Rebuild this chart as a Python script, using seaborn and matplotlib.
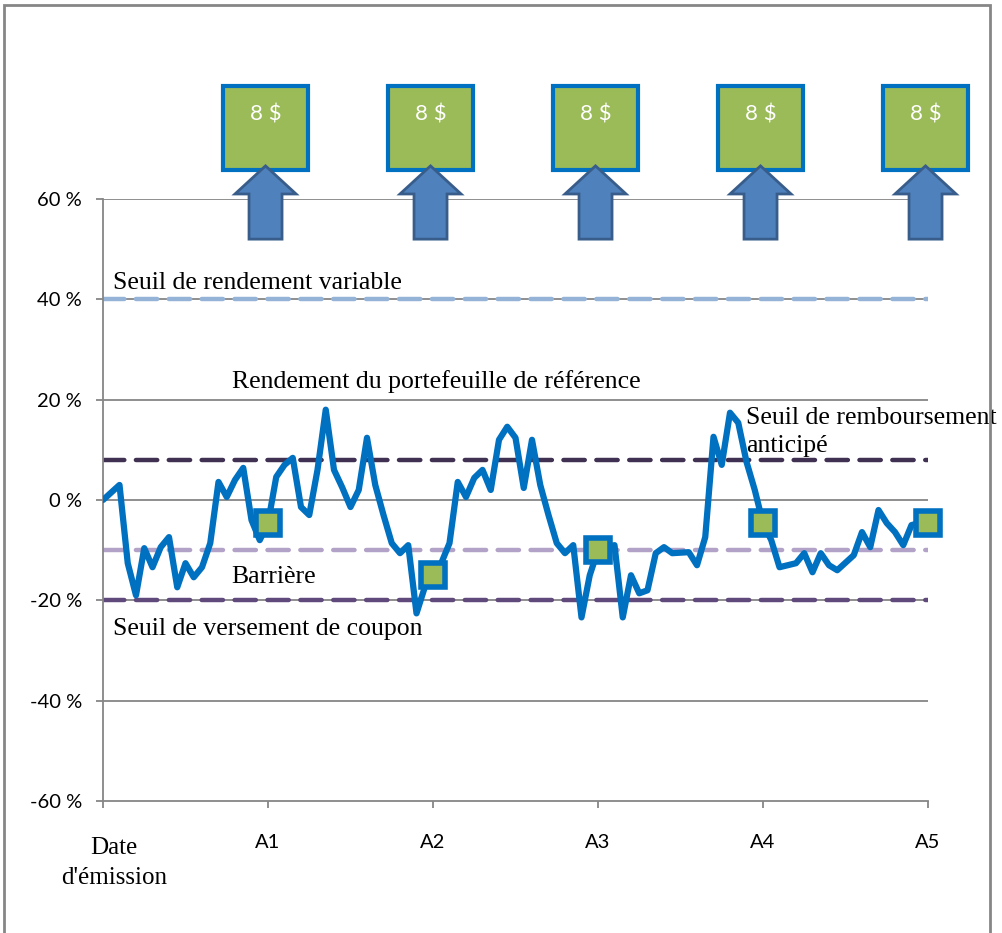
import numpy as np
import pandas as pd
import matplotlib
matplotlib.use("Agg")
import matplotlib.pyplot as plt
import matplotlib.transforms as mtransforms
from matplotlib.patches import Rectangle, Polygon
import seaborn as sns

# Rendement du portefeuille de référence (%), 20 observations par an sur 5 ans
rendement = [
    0, 1.5, 3, -12.6, -19, -9.6, -13.4, -9.4, -7.4, -17.4,
    -12.6, -15.4, -13.4, -8.6, 3.6, 0.6, 4, 6.4, -4, -8,
    -4.6, 4.6, 7, 8.4, -1.4, -3, 6, 18, 6, 2.5,
    -1.4, 2, 12.4, 3, -3, -8.6, -10.6, -9, -22.6, -17.4,
    -15, -12.6, -8.6, 3.6, 0.6, 4.4, 6, 2, 12, 14.6,
    12.4, 2.4, 12, 3, -3, -8.6, -10.6, -9, -23.4, -15,
    -10, -9.5, -9, -23.4, -15, -18.6, -18, -10.6, -9.4, -10.6,
    -10.5, -10.4, -13, -7.4, 12.6, 7, 17.4, 15.4, 7.6, 2,
    -4.6, -8, -13.4, -13, -12.6, -10.6, -14.4, -10.6, -13, -14,
    -12.5, -11, -6.4, -9.4, -2, -4.6, -6.4, -9, -5, -4.6,
    -4.6,
]
annees = np.arange(len(rendement)) / 20.0

dates_obs = [1, 2, 3, 4, 5]
valeurs_obs = [-4.6, -15, -10, -4.6, -4.6]
coupons = ["8 $", "8 $", "8 $", "8 $", "8 $"]

xticks = [0, 1, 2, 3, 4, 5]
xlabels = ["Date\nd'émission", "A1", "A2", "A3", "A4", "A5"]
yticks = [-60, -40, -20, 0, 20, 40, 60]

seuils = {
    "rendement": 40,
    "remboursement": 8,
    "barriere": -10,
    "coupon": -20,
}

sns.set_style("white")
plt.rcParams["font.family"] = ["Lato", "DejaVu Sans"]

fig = plt.figure(figsize=(10.02, 9.33), dpi=100)
ax = fig.add_axes([103 / 1002, 1 - 801 / 933, 825 / 1002, 602 / 933])

grey = "#868686"
for y in yticks[1:]:
    ax.axhline(y, color=grey, lw=1.3, zorder=1)

# seuils
dash_kw = dict(lw=3.2, dashes=(4.8, 2.6), dash_capstyle="round", zorder=2)
ax.axhline(seuils["rendement"], color="#95B3D7", **dash_kw)
ax.axhline(seuils["remboursement"], color="#403152", **dash_kw)
ax.axhline(seuils["barriere"], color="#B3A2C7", **dash_kw)
ax.axhline(seuils["coupon"], color="#604A7B", **dash_kw)

df = pd.DataFrame({"annee": annees, "rendement": rendement})
sns.lineplot(data=df, x="annee", y="rendement", color="#0070C0", lw=4.5,
             ax=ax, zorder=3)
ax.plot(dates_obs, valeurs_obs, ls="none", marker="s", markersize=17,
        markerfacecolor="#9BBB59", markeredgecolor="#0070C0",
        markeredgewidth=4, zorder=4, clip_on=False)

ax.set_xlim(0, 5)
ax.set_ylim(-60, 60)
ax.set_yticks(yticks)
ax.set_yticklabels([f"{v} %" for v in yticks])
ax.set_xticks(xticks)
ax.set_xticklabels(xlabels)
ax.set_xlabel("")
ax.set_ylabel("")

for s in ["top", "right"]:
    ax.spines[s].set_visible(False)
for s in ["left", "bottom"]:
    ax.spines[s].set_color(grey)
    ax.spines[s].set_linewidth(1.3)
ax.tick_params(axis="both", direction="out", length=5, width=1.3, color=grey,
               labelsize=14.5, labelcolor="black")
ax.tick_params(axis="y", pad=10, left=True)
ax.tick_params(axis="x", pad=19, bottom=True)

first = ax.get_xticklabels()[0]
first.set_fontfamily(["Liberation Serif", "DejaVu Serif"])
first.set_fontsize(18)
first.set_linespacing(1.45)
first.set_transform(first.get_transform() +
                    mtransforms.ScaledTranslation(0.11, -0.03, fig.dpi_scale_trans))

serif = dict(family=["Liberation Serif", "DejaVu Serif"], fontsize=18.5,
             color="black", va="baseline", clip_on=False)
ax.text(0.06, 42, "Seuil de rendement variable", **serif)
ax.text(0.78, 22.4, "Rendement du portefeuille de référence", **serif)
ax.text(0.78, -16.6, "Barrière", **serif)
ax.text(0.06, -27, "Seuil de versement de coupon", **serif)
ax.text(3.9, 15.2, "Seuil de remboursement", **serif)
ax.text(3.9, 9.6, "anticipé", **serif)

# coupons : boîtes et flèches au-dessus du graphique
bw, by0, by1 = 0.52, 65.8, 82.6
for d, c in zip(dates_obs, coupons):
    cx = d - 0.015
    ax.add_patch(Rectangle((cx - bw / 2, by0), bw, by1 - by0,
                           facecolor="#9BBB59", edgecolor="#0070C0", lw=3,
                           clip_on=False, zorder=5))
    ax.text(cx, 76.8, c, color="white", fontsize=16, ha="center",
            va="center", clip_on=False, zorder=6)
    hw, sw = 0.185, 0.1
    pts = [(cx - sw, 52), (cx - sw, 61), (cx - hw, 61), (cx, 66.6),
           (cx + hw, 61), (cx + sw, 61), (cx + sw, 52)]
    ax.add_patch(Polygon(pts, closed=True, facecolor="#4F81BD",
                         edgecolor="#385D8A", lw=2, clip_on=False, zorder=7))

# cadre extérieur
fig.patches.append(Rectangle((4 / 1002, -0.01), 986 / 1002, 1 - 5 / 933 + 0.01,
                             transform=fig.transFigure, fill=False,
                             edgecolor=grey, lw=2))

fig.savefig("out.png", dpi=100)
